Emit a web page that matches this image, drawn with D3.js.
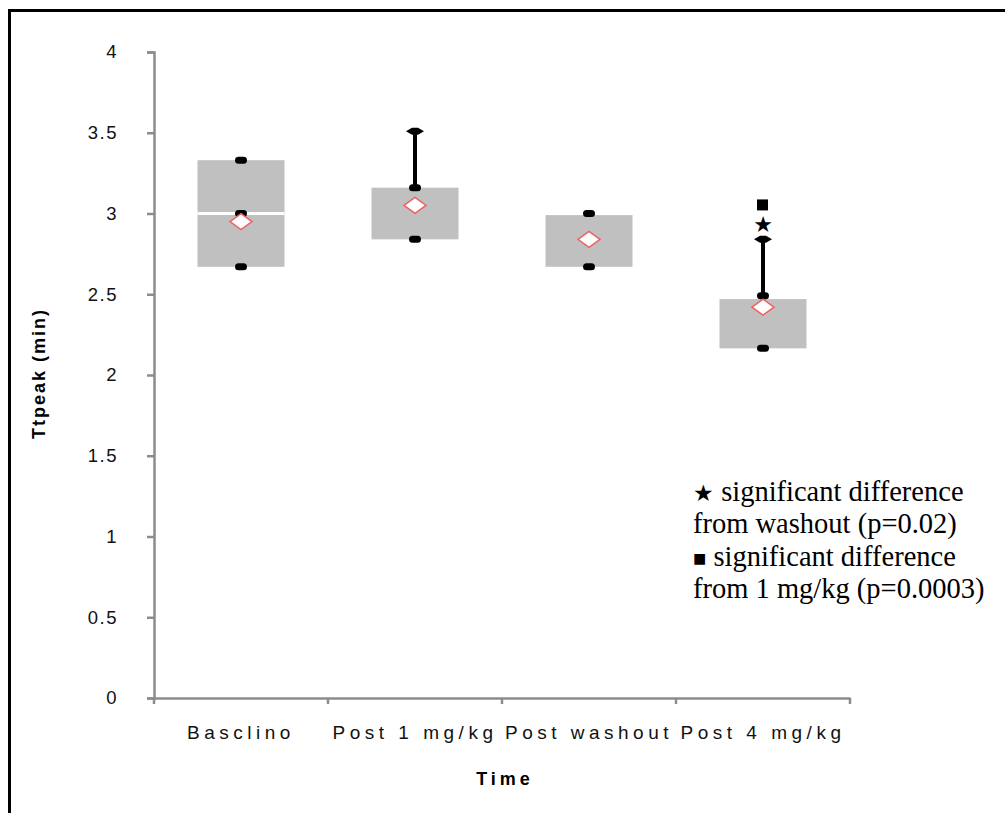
<!DOCTYPE html>
<html>
<head>
<meta charset="utf-8">
<script src="https://cdn.jsdelivr.net/npm/d3@7"></script>
<style>
  body { margin: 0; background: #fff; }
</style>
</head>
<body>
<svg id="chart" width="1005" height="813"></svg>
<script>
let categories = ["Baseline", "Post 1 mg/kg", "Post washout", "Post 4 mg/kg"];
let tickLabels = ["Basclino", "Post 1 mg/kg", "Post washout", "Post 4 mg/kg"];
let boxLow = [2.67, 2.84, 2.67, 2.165];
let boxHigh = [3.33, 3.16, 2.99, 2.47];
let medians = [3.0, null, null, null];
let whiskerTop = [null, 3.51, null, 2.84];
let points = [[3.33, 3.0, 2.67], [3.51, 3.16, 2.84], [3.0, 2.67], [2.84, 2.49, 2.165]];
let means = [2.95, 3.05, 2.84, 2.42];
let starMark = {cat: "Post 4 mg/kg", value: 2.93};
let squareMark = {cat: "Post 4 mg/kg", value: 3.05};
let yTicks = [0, 0.5, 1, 1.5, 2, 2.5, 3, 3.5, 4];
let legendLines = ["\u2605 significant difference", "from washout (p=0.02)", "\u25A0 significant difference", "from 1 mg/kg (p=0.0003)"];

let svg = d3.select("#chart");

// outer frame, only top and left show
svg.append("path").attr("d", "M9.5,1005 V10.5 H1005").attr("fill", "none").attr("stroke", "#000").attr("stroke-width", 3);

let x = d3.scaleBand().domain(categories).range([154, 850]);
let y = d3.scaleLinear().domain([0, 4]).range([698, 52]);

let axisColor = "#8c8c8c";
let tickFont = "Liberation Sans, Arial, sans-serif";

let yAxis = svg.append("g").attr("transform", "translate(154,0)")
  .call(d3.axisLeft(y).tickValues(yTicks).tickSize(7).tickPadding(29).tickFormat(d => String(d)));
yAxis.selectAll("line, path").attr("stroke", axisColor).attr("stroke-width", 2.5);
yAxis.attr("font-family", tickFont).attr("font-size", 18.5);
yAxis.selectAll("text").attr("fill", "#111").attr("letter-spacing", 1.5);

let xAxis = svg.append("g").attr("transform", "translate(0,698)")
  .call(d3.axisBottom(x).tickSize(0).tickPadding(28).tickFormat((d, i) => tickLabels[i]));
xAxis.selectAll("path").attr("stroke", axisColor).attr("stroke-width", 2.5);
xAxis.attr("font-family", tickFont).attr("font-size", 19);
xAxis.selectAll("text").attr("fill", "#111").attr("letter-spacing", 4.5);

// tick marks sit on category boundaries
let bounds = categories.map(c => x(c)).concat([x.range()[1]]);
xAxis.selectAll(".bound").data(bounds).enter().append("line")
  .attr("x1", d => d).attr("x2", d => d).attr("y1", 0).attr("y2", 6)
  .attr("stroke", axisColor).attr("stroke-width", 2.5);

let bw = x.bandwidth() * 0.5;
let cx = c => x(c) + x.bandwidth() / 2;

let g = svg.append("g");

// boxes
g.selectAll(".box").data(categories).enter().append("rect")
  .attr("x", c => cx(c) - bw / 2)
  .attr("width", bw)
  .attr("y", (c, i) => y(boxHigh[i]))
  .attr("height", (c, i) => y(boxLow[i]) - y(boxHigh[i]))
  .attr("fill", "#c0c0c0");

// median line (white)
let medCats = categories.filter((c, i) => medians[i] != null);
g.selectAll(".med").data(medCats).enter().append("line")
  .attr("x1", c => cx(c) - bw / 2).attr("x2", c => cx(c) + bw / 2)
  .attr("y1", c => y(medians[categories.indexOf(c)])).attr("y2", c => y(medians[categories.indexOf(c)]))
  .attr("stroke", "#fff").attr("stroke-width", 3);

// whiskers
let whCats = categories.filter((c, i) => whiskerTop[i] != null);
g.selectAll(".wh").data(whCats).enter().append("line")
  .attr("x1", c => cx(c)).attr("x2", c => cx(c))
  .attr("y1", c => y(whiskerTop[categories.indexOf(c)]))
  .attr("y2", c => y(boxHigh[categories.indexOf(c)]))
  .attr("stroke", "#000").attr("stroke-width", 4);

g.selectAll(".cap").data(whCats).enter().append("path")
  .attr("d", c => {
    let px = cx(c), py = y(whiskerTop[categories.indexOf(c)]);
    return "M" + (px - 9) + "," + py + " L" + (px - 3) + "," + (py - 3.5) + " L" + (px + 3) + "," + (py - 3.5) + " L" + (px + 9) + "," + py + " L" + (px + 3) + "," + (py + 3.5) + " L" + (px - 3) + "," + (py + 3.5) + "Z";
  })
  .attr("fill", "#000");

// data points
let pts = [];
categories.forEach((c, i) => points[i].forEach(v => {
  if (v !== whiskerTop[i]) pts.push({c: c, v: v});
}));
g.selectAll(".pt").data(pts).enter().append("rect")
  .attr("x", p => cx(p.c) - 6).attr("y", p => y(p.v) - 3.5)
  .attr("width", 12).attr("height", 7).attr("rx", 3.5)
  .attr("fill", "#000");

// means
g.selectAll(".mean").data(categories).enter().append("path")
  .attr("d", (c, i) => {
    let px = cx(c), py = y(means[i]);
    return "M" + (px - 11) + "," + py + " L" + px + "," + (py - 8) + " L" + (px + 11) + "," + py + " L" + px + "," + (py + 8) + "Z";
  })
  .attr("fill", "#fff").attr("stroke", "#f06060").attr("stroke-width", 1.5);

// significance markers
svg.append("text").attr("x", cx(starMark.cat)).attr("y", y(starMark.value)).attr("text-anchor", "middle")
  .attr("dominant-baseline", "central").attr("font-family", "DejaVu Sans").attr("font-size", 22).text("\u2605");
svg.append("rect").attr("x", cx(squareMark.cat) - 6).attr("y", y(squareMark.value) - 6)
  .attr("width", 11).attr("height", 11).attr("fill", "#000");

// axis titles
svg.append("text").attr("transform", "translate(45,439) rotate(-90)")
  .attr("text-anchor", "start").attr("font-family", tickFont)
  .attr("font-size", 18).attr("font-weight", "bold").attr("letter-spacing", 2).text("Ttpeak (min)");
svg.append("text").attr("x", 505).attr("y", 785).attr("text-anchor", "middle")
  .attr("font-family", tickFont).attr("font-size", 18)
  .attr("font-weight", "bold").attr("letter-spacing", 4).text("Time");

// legend
let legend = svg.append("g").selectAll("text").data(legendLines).enter().append("text")
  .attr("x", 693).attr("y", (d, i) => 501 + i * 32.3)
  .attr("font-family", "Liberation Serif, Times New Roman, serif").attr("font-size", 28.5);
legend.append("tspan").attr("font-size", d => d[0] === "\u2605" ? 23 : (d[0] === "\u25A0" ? 22 : null))
  .text(d => (d[0] === "\u2605" || d[0] === "\u25A0") ? d[0] : "");
legend.append("tspan").text(d => (d[0] === "\u2605" || d[0] === "\u25A0") ? d.slice(1) : d);
</script>
</body>
</html>
